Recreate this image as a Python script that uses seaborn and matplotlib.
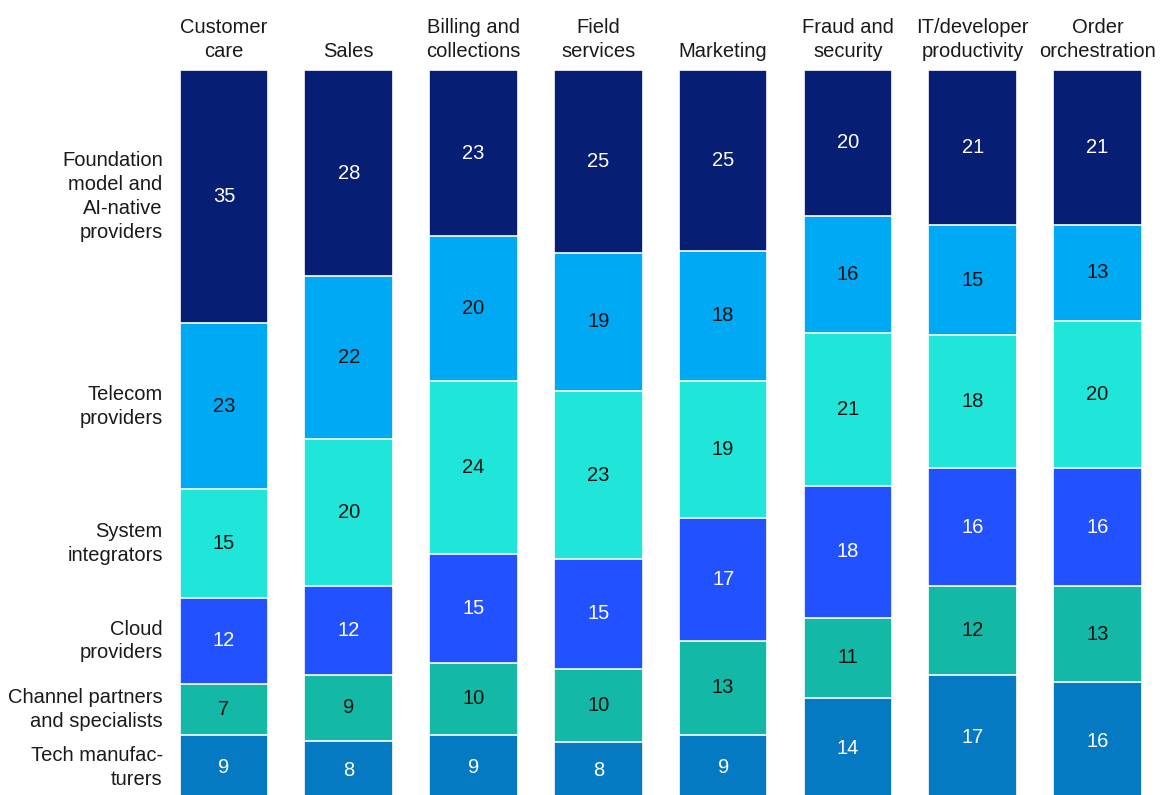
import numpy as np
import pandas as pd
import matplotlib
matplotlib.use("Agg")
import matplotlib.pyplot as plt
import seaborn as sns

functions = ["Customer\ncare", "Sales", "Billing and\ncollections", "Field\nservices",
             "Marketing", "Fraud and\nsecurity", "IT/developer\nproductivity", "Order\norchestration"]

# Layers listed from the top of each stack down to the bottom
layers = ["Foundation\nmodel and\nAI-native\nproviders", "Telecom\nproviders", "System\nintegrators",
          "Cloud\nproviders", "Channel partners\nand specialists", "Tech manufac-\nturers"]

foundation = [35, 28, 23, 25, 25, 20, 21, 21]
telecom = [23, 22, 20, 19, 18, 16, 15, 13]
integrators = [15, 20, 24, 23, 19, 21, 18, 20]
cloud = [12, 12, 15, 15, 17, 18, 16, 16]
channel = [7, 9, 10, 10, 13, 11, 12, 13]
manufacturers = [9, 8, 9, 8, 9, 14, 17, 16]

layer_colors = ["#061f74", "#00a9f4", "#20e6d9", "#2251ff", "#14b8a6", "#0679c3"]
label_colors = ["white", "#111111", "#111111", "white", "#111111", "white"]

sns.set_theme(style="white")
plt.rcParams["font.family"] = ["Liberation Sans", "DejaVu Sans"]

FS = 14.5
LS = 1.33

values = np.array([foundation, telecom, integrators, cloud, channel, manufacturers], dtype=float)
shares = values / values.sum(axis=0) * 100
# cumulative top of each layer, counted from the bottom layer upward
tops = np.cumsum(shares[::-1], axis=0)[::-1]

W, H = 1160, 795
fig = plt.figure(figsize=(W / 100, H / 100), dpi=100)
# the stacks run slightly past the lower edge of the canvas
ax = fig.add_axes([161.5 / W, -5 / H, 1 - 161.5 / W, 730 / H])

xlabels = [f.replace("\n", " ") for f in functions]
for i in range(len(layers)):
    df = pd.DataFrame({"function": xlabels, "top": tops[i]})
    sns.barplot(data=df, x="function", y="top", color=layer_colors[i], saturation=1,
                width=0.71, edgecolor="white", linewidth=1.2, ax=ax)

ax.set_xlim(-0.5, len(functions) - 0.5)
ax.set_ylim(0, 100)
ax.set_xticks([])
ax.set_yticks([])
ax.set_xlabel("")
ax.set_ylabel("")
for s in ax.spines.values():
    s.set_visible(False)

for i in range(len(layers)):
    for j in range(len(functions)):
        center = tops[i][j] - shares[i][j] / 2
        ax.text(j, center, f"{int(values[i][j])}", ha="center", va="center",
                fontsize=FS, color=label_colors[i])

for j, name in enumerate(functions):
    ax.annotate(name, xy=(j, 100), xytext=(0, 6.5), textcoords="offset points",
                ha="center", va="bottom", fontsize=FS, color="#1a1a1a",
                linespacing=LS, annotation_clip=False)

for i, name in enumerate(layers):
    center = tops[i][0] - shares[i][0] / 2
    ax.text(-0.49, center, name, ha="right", va="center", fontsize=FS,
            color="#1a1a1a", linespacing=LS, clip_on=False)

fig.savefig("out.png", dpi=100)
